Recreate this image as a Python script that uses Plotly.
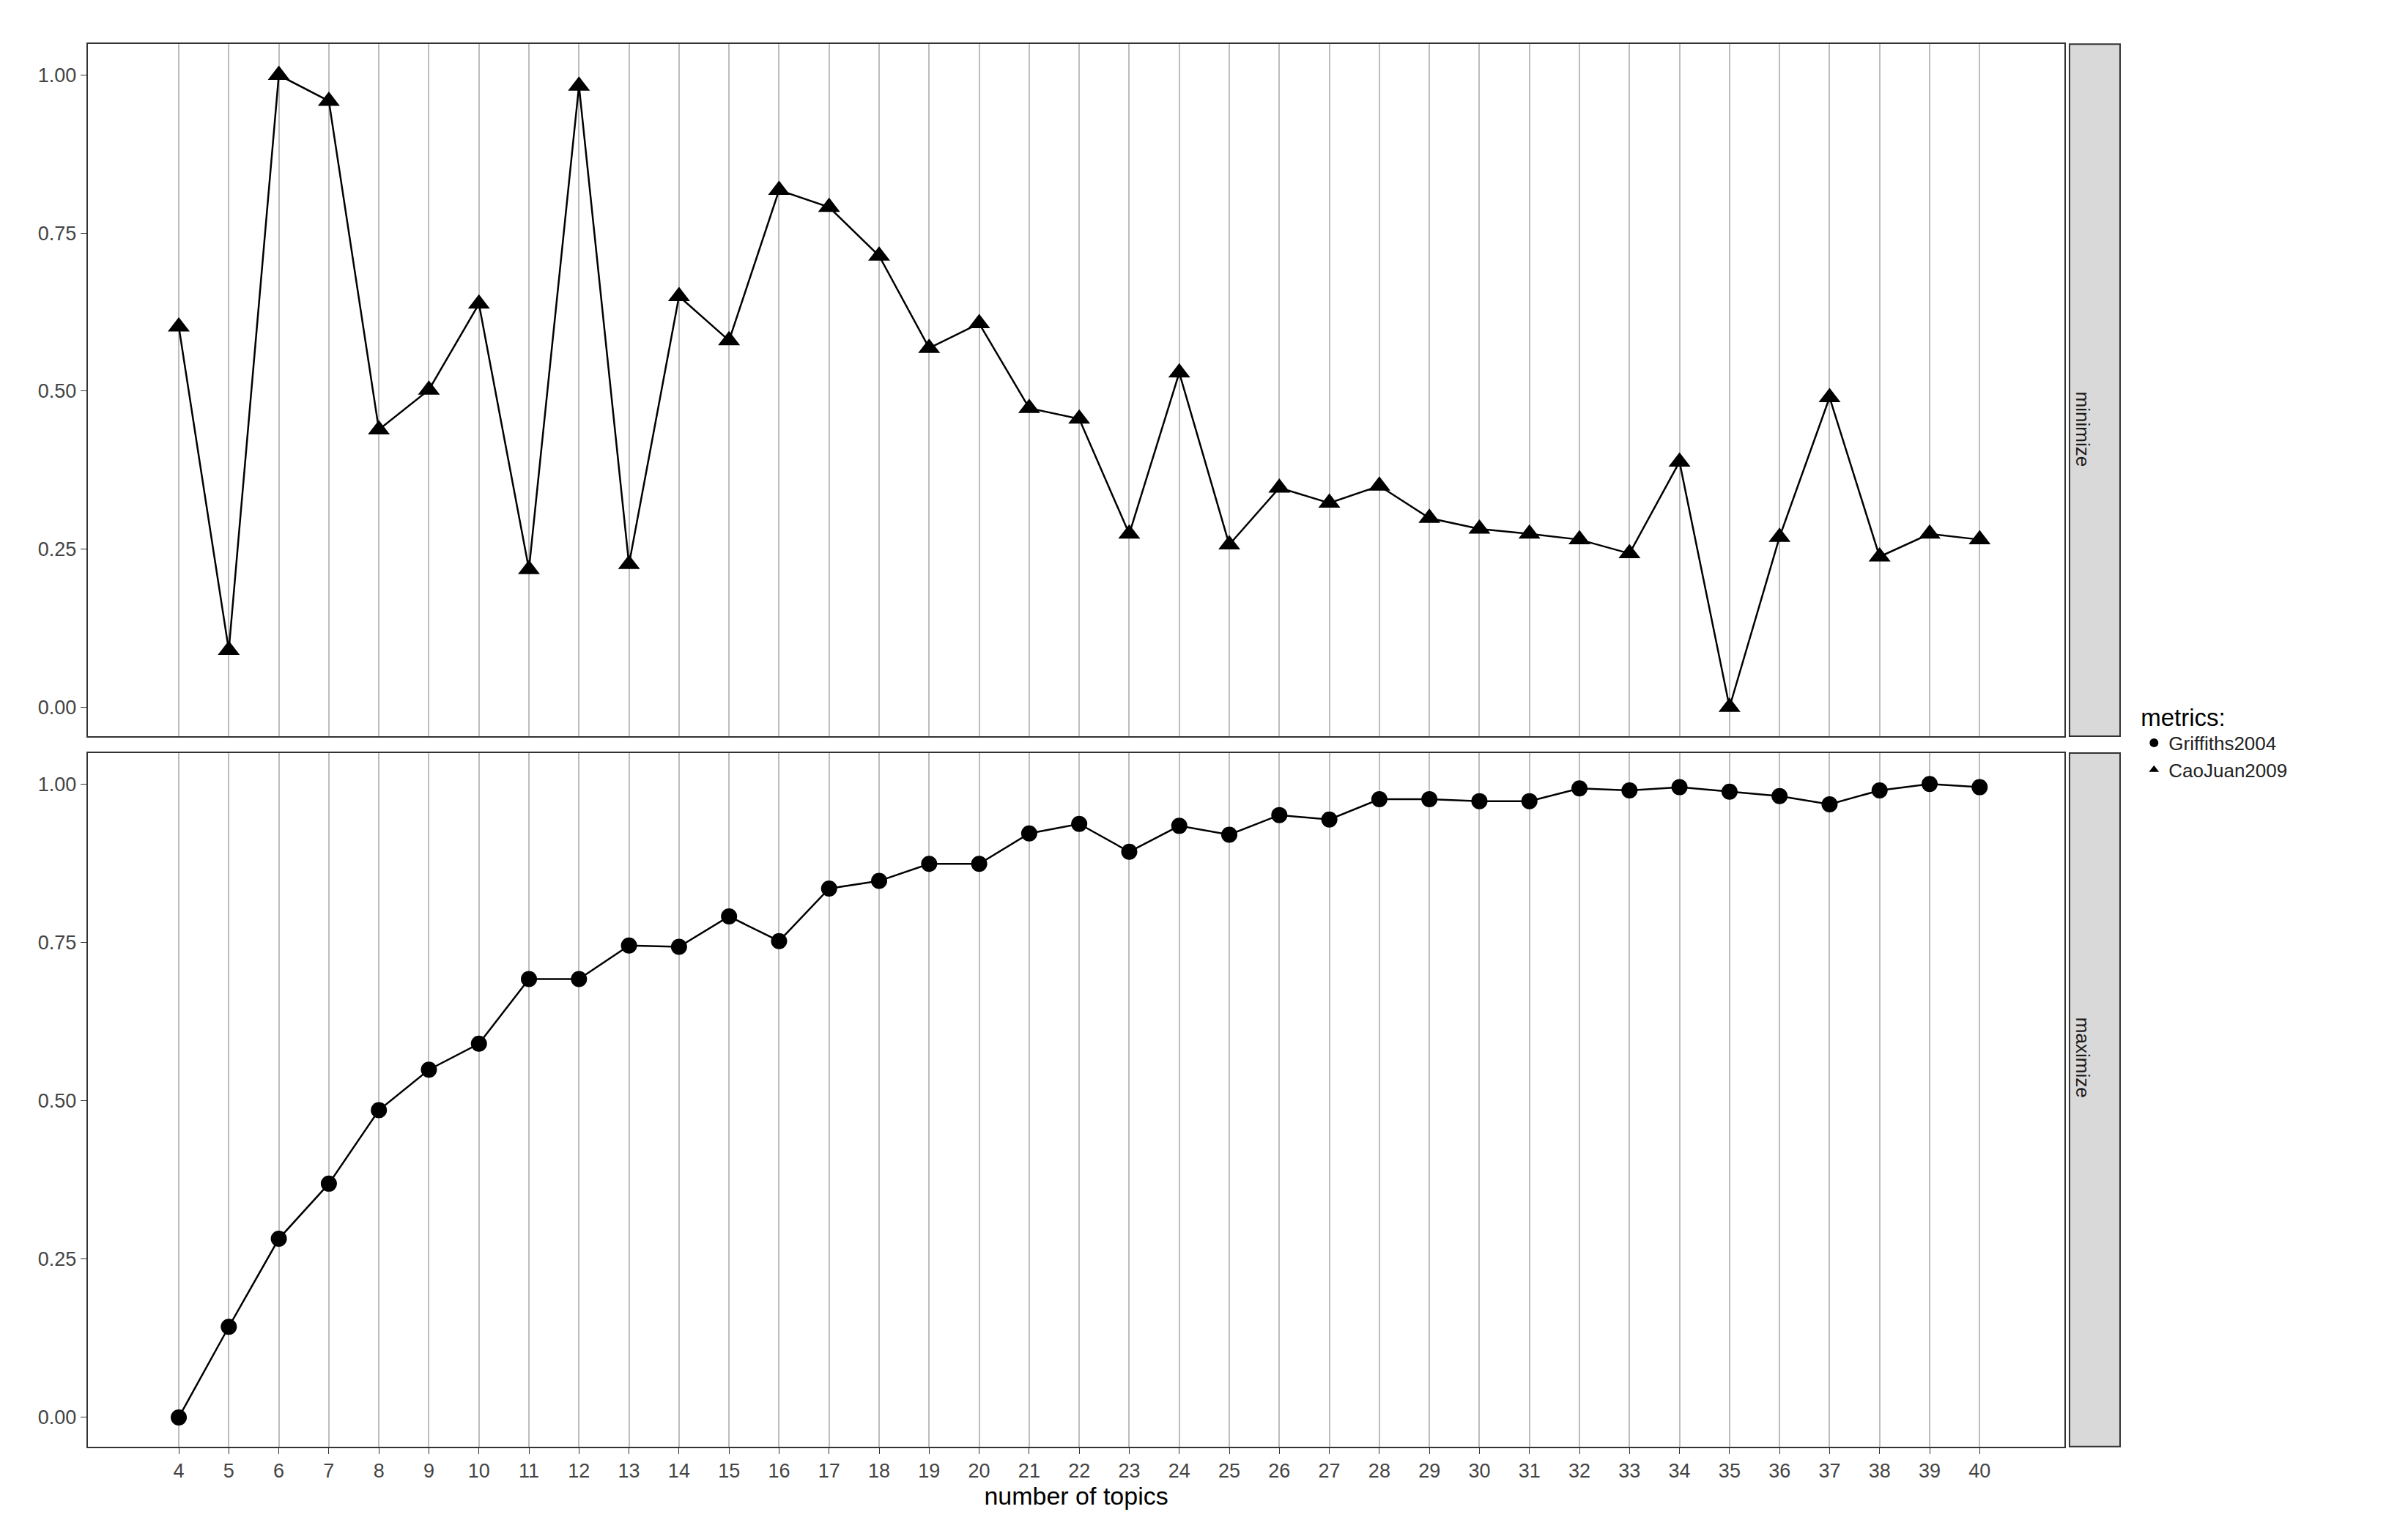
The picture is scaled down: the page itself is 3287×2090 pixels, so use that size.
import plotly.graph_objects as go

topics = list(range(4, 41))
cao = [0.602,0.09,1.0,0.959,0.439,0.502,0.638,0.218,0.983,0.226,0.650,0.580,0.818,0.791,0.714,0.568,0.607,0.473,0.456,0.274,0.529,0.257,0.347,0.323,0.350,0.299,0.282,0.274,0.265,0.243,0.388,0.0,0.269,0.490,0.238,0.274,0.265]
griff = [0.0,0.143,0.282,0.369,0.485,0.549,0.590,0.692,0.692,0.745,0.743,0.791,0.752,0.835,0.847,0.874,0.874,0.922,0.937,0.893,0.934,0.920,0.951,0.944,0.976,0.976,0.973,0.973,0.993,0.990,0.995,0.988,0.981,0.968,0.990,1.0,0.995]
yticks = [0, 0.25, 0.5, 0.75, 1.0]
ytext = ["0.00", "0.25", "0.50", "0.75", "1.00"]

fig = go.Figure()
fig.add_trace(go.Scatter(x=topics, y=griff, mode="lines+markers", name="Griffiths2004", showlegend=False,
    line=dict(color="black", width=2.5), marker=dict(symbol="circle", size=22, color="black"),
    xaxis="x2", yaxis="y2"))
fig.add_trace(go.Scatter(x=topics, y=cao, mode="lines+markers", name="CaoJuan2009", showlegend=False,
    line=dict(color="black", width=2.5), marker=dict(symbol="triangle-up", size=26, color="black"),
    xaxis="x", yaxis="y"))
fig.add_trace(go.Scatter(x=[None], y=[None], mode="markers", name="Griffiths2004",
    marker=dict(symbol="circle", size=22, color="black"), xaxis="x2", yaxis="y2"))
fig.add_trace(go.Scatter(x=[None], y=[None], mode="markers", name="CaoJuan2009",
    marker=dict(symbol="triangle-up", size=26, color="black"), xaxis="x2", yaxis="y2"))

L, R = 0.034, 0.855
ax = dict(range=[2.18, 41.7], tickvals=topics, showgrid=True, gridcolor="#bdbdbd", gridwidth=2,
          showline=True, mirror=True, linecolor="#333", linewidth=2, ticks="outside",
          tickcolor="#333", ticklen=8, tickfont=dict(size=27, color="#444", family="Liberation Sans"),
          zeroline=False)
ay = dict(range=[-0.046, 1.049], tickvals=yticks, ticktext=ytext, showgrid=False,
          showline=True, mirror=True, linecolor="#333", linewidth=2, ticks="outside",
          tickcolor="#333", ticklen=8, tickfont=dict(size=27, color="#444", family="Liberation Sans"),
          zeroline=False)
fig.update_layout(
    width=3287, height=2090, margin=dict(l=0, r=0, t=0, b=0),
    paper_bgcolor="white", plot_bgcolor="white",
    xaxis=dict(ax, domain=[L, R], anchor="y", showticklabels=False, ticks=""),
    yaxis=dict(ay, domain=[0.523, 0.975], anchor="x"),
    xaxis2=dict(ax, domain=[L, R], anchor="y2",
                title=dict(text="number of topics", font=dict(size=34, color="black", family="Liberation Sans"), standoff=8)),
    yaxis2=dict(ay, domain=[0.059, 0.512], anchor="x2"),
    legend=dict(x=0.886, y=0.52, xanchor="left", yanchor="middle",
                title=dict(text="metrics:", font=dict(size=33, color="black", family="Liberation Sans")),
                font=dict(size=26, color="#222", family="Liberation Sans"), itemsizing="constant",
                tracegroupgap=10),
    showlegend=True,
)
sx0, sx1 = 0.857, 0.878
for (y0, y1, lab) in [(0.523, 0.975, "minimize"), (0.059, 0.512, "maximize")]:
    fig.add_shape(type="rect", xref="paper", yref="paper", x0=sx0, x1=sx1, y0=y0, y1=y1,
                  fillcolor="#d9d9d9", line=dict(color="#333", width=2))
    fig.add_annotation(x=(sx0+sx1)/2, y=(y0+y1)/2, xref="paper", yref="paper", text=lab,
                       textangle=90, showarrow=False, font=dict(size=26, color="#1a1a1a", family="Liberation Sans"))
fig.write_html("out.html")
